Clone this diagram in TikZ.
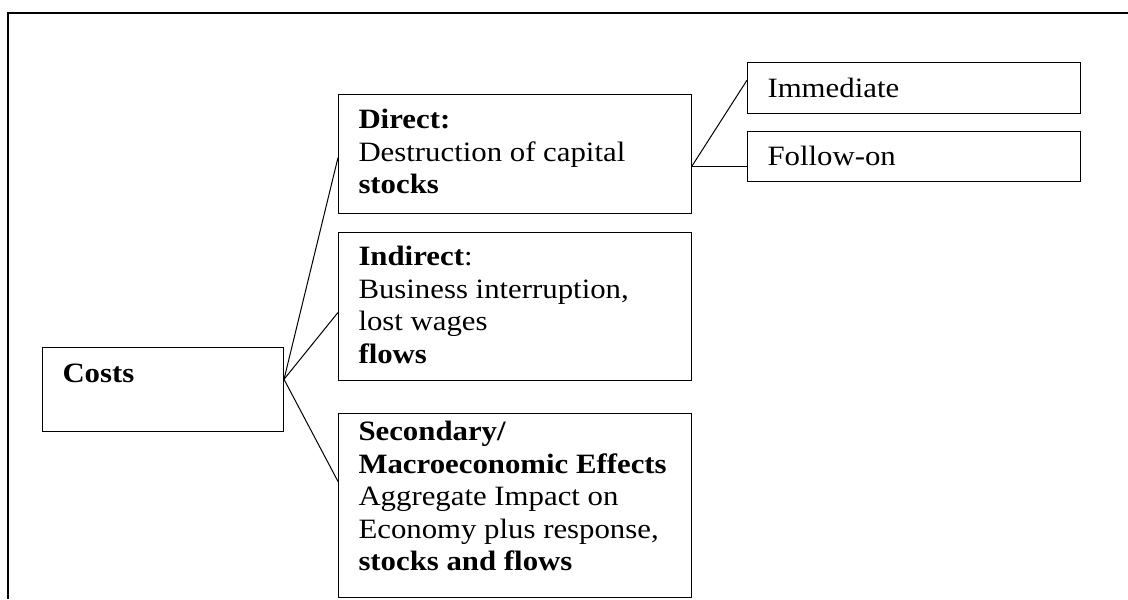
\documentclass[tikz,border=0pt]{standalone}
\usepackage{fontspec}
\setmainfont[FakeStretch=1.1]{Liberation Serif}
\usetikzlibrary{calc}
\newcommand{\boxlines}[4]{\parbox[c][#2][t]{#1}{\rule{0pt}{#3}#4}}

\begin{document}
\begin{tikzpicture}[x=0.5pt,y=-0.5pt,
  costbox/.style={draw, line width=0.5pt, inner xsep=10pt, inner ysep=0pt,
    anchor=north west, font=\fontsize{14}{16.25}\selectfont},
  link/.style={line width=0.5pt}]
\useasboundingbox (0,0) rectangle (1128,599);
\draw [line width=0.75pt] (1128,13) -- (8,13) -- (8,599);
\node [costbox] (costs) at (42,347) {\boxlines{100.5pt}{42pt}{17.5pt}{\textbf{Costs}}};
\node [costbox] (direct) at (338,94) {\boxlines{156.5pt}{59.5pt}{17pt}{\textbf{Direct:}\\
  Destruction of capital\\ \textbf{stocks}}};
\node [costbox] (indirect) at (338,232) {\boxlines{156.5pt}{74pt}{16.5pt}{\textbf{Indirect}:\\
  Business interruption,\\ lost wages\\ \textbf{flows}}};
\node [costbox] (secondary) at (338,413) {\boxlines{156.5pt}{92pt}{13.5pt}{\textbf{Secondary/}\\
  \textbf{Macroeconomic Effects}\\ Aggregate Impact on\\ Economy plus response,\\
  \textbf{stocks and flows}}};
\node [costbox] (immediate) at (747,62) {\boxlines{146.5pt}{25.5pt}{17.5pt}{Immediate}};
\node [costbox] (followon) at (747,131) {\boxlines{146.5pt}{25pt}{17pt}{Follow-on}};
% branch points
\coordinate (costfork) at ($(costs.north east)!0.38!(costs.south east)$);
\coordinate (directfork) at ($(direct.north east)!0.6!(direct.south east)$);
\draw [link] (costfork) -- ($(direct.north west)!0.53!(direct.south west)$);
\draw [link] (costfork) -- ($(indirect.north west)!0.54!(indirect.south west)$);
\draw [link] (costfork) -- ($(secondary.north west)!0.37!(secondary.south west)$);
\draw [link] (directfork) -- ($(immediate.north west)!0.35!(immediate.south west)$);
\draw [link] (directfork) -- (directfork -| followon.west);
\end{tikzpicture}
\end{document}
